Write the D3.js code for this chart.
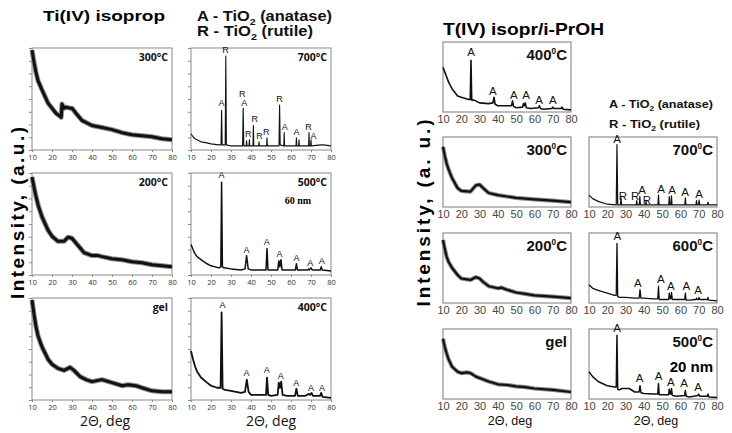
<!DOCTYPE html>
<html>
<head>
<meta charset="utf-8">
<script src="https://cdn.jsdelivr.net/npm/d3@7"></script>
<style>body{margin:0;background:#fff}</style>
</head>
<body>
<script>
// ---- data (intensity in % of panel height) ----
const xTicks = [10, 20, 30, 40, 50, 60, 70, 80];

// Ti(IV) isoprop
const ti300 = [[10,98],[11,86],[12,76],[13,68],[15,59],[18,46],[20,41],[22,36],[24,33],[24.6,32],[25,45],[26,41],[27,42],[29,41],[30,41],[32,36],[35,29],[38,26],[40,24],[45,22],[50,20],[55,17],[60,15],[65,14],[70,13],[75,11],[80,10]];
const ti200 = [[10,96],[11,86],[12,77],[13,69],[15,57],[18,44],[20,38],[23,33],[26,33],[28,37],[30,36],[33,29],[36,22],[40,19],[43,19],[45,18],[50,16],[55,15],[60,13],[65,12],[70,10],[75,9],[80,8]];
const tiGel = [[10,98],[11,84],[12,72],[13,63],[15,52],[18,40],[20,35],[23,31],[26,29],[29,32],[31,29],[34,23],[37,20],[40,18],[45,20],[50,17],[55,14],[58,15],[62,14],[65,12],[70,9],[75,8],[80,8]];
const ti700 = [[10,16],[11,13],[12,11],[13,10],[15,8],[18,7],[20,6],[24,5],[25,5],[25.3,39],[25.6,5],[27.1,5],[27.4,92],[27.7,5],[30,4],[35.8,4],[36.1,41],[36.4,4],[37.6,4],[37.8,9],[38,4],[39,4],[39.2,10],[39.4,4],[41,4],[41.2,24],[41.4,4],[43.8,4],[44,8],[44.2,4],[47.8,4],[48,12],[48.2,4],[54,4],[54.3,44],[54.6,5],[56.4,4],[56.6,17],[56.8,4],[62.5,4],[62.7,12],[62.9,4],[63.8,4],[64,10],[64.2,4],[68.8,4],[69,17],[69.2,4],[69.8,4],[70,10],[70.2,4],[75,5],[76,5],[80,4]];
const ti500 = [[10,30],[11,25],[12,21],[13,18],[15,15],[18,11],[20,9],[24,7],[24.9,8],[25.3,91],[25.7,8],[26.5,7],[30,6],[35,5],[37,6],[37.8,19],[38.6,6],[40,5],[47.5,5],[48,26],[48.5,5],[53.4,5],[53.9,14],[54.4,8],[55,15],[55.5,5],[62.2,5],[62.7,11],[63.2,5],[68.5,5],[68.8,6],[69.2,5],[70,7],[70.6,5],[74.6,5],[75.1,8],[75.6,5],[80,4]];
const ti400 = [[10,48],[11,40],[12,33],[13,28],[15,22],[18,17],[20,14],[23,12],[24.8,12],[25.3,86],[25.8,11],[27,10],[30,9],[35,7],[37,8],[37.9,20],[38.8,8],[40,5],[45,5],[47.5,5],[48,22],[48.6,5],[50,4],[53.3,5],[53.9,17],[54.5,12],[55.1,18],[55.8,5],[58,4],[62,4],[62.7,11],[63.4,4],[67,4],[68.8,6],[69.5,5],[70.3,7],[71,4],[74.5,4],[75.1,7],[75.8,3],[80,2]];
const ti700Peaks = [["A",25.2,43],["R",27.3,95],["R",35.6,52],["A",36.6,43],["R",38.6,13],["R",41.9,27],["R",44.3,11],["R",47.6,15],["R",54.2,47],["A",56.9,20],["A",62.7,15],["R",68.8,20],["A",71.3,11]];
const ti500Peaks = [["A",25.3,95],["A",37.8,22],["A",47.9,29],["A",54.2,18],["A",62.8,14],["A",69.6,9],["A",75.4,11]];
const ti400Peaks = [["A",25.8,90],["A",37.8,24],["A",47.9,26],["A",54.9,21],["A",62.6,14],["A",70,9],["A",75.5,9]];
const tiTemps = ["300°C", "700°C", "200°C", "500°C", "gel", "400°C"];

// T(IV) isopr/i-PrOH
const pr400 = [[10,64],[11,57],[12,50],[13,43],[15,33],[18,23],[20,21],[24,18],[24.9,18],[25.3,74],[25.7,17],[27,17],[30,13],[35,12],[37.3,13],[37.9,21],[38.5,11],[40,9],[45,9],[47.5,9],[48,16],[48.6,8],[50,6],[53.5,7],[54,12],[54.5,9],[55,13],[55.6,6],[58,5],[62.2,6],[62.7,9],[63.3,5],[65,4],[69.5,5],[70,7],[70.6,5],[74.6,5],[75.1,7],[75.7,4],[80,3]];
const pr300 = [[10,86],[11,73],[12,62],[13,54],[15,41],[18,27],[20,23],[25,22],[28,31],[30,32],[32,27],[35,20],[40,17],[45,15],[50,13],[60,11],[70,9],[80,7]];
const pr700 = [[10,17],[12,12],[15,8],[20,4],[24.9,3],[25.3,89],[25.7,3],[27.2,3],[27.5,13],[27.8,3],[35.8,3],[36.1,9],[36.4,3],[37.5,3],[37.8,15],[38.1,3],[41,3],[41.2,8],[41.4,3],[47.7,3],[48,17],[48.3,3],[53.6,3],[53.9,15],[54.2,3],[54.8,3],[55.1,16],[55.4,3],[62.4,3],[62.7,13],[63,3],[68.5,3],[68.8,9],[69.1,3],[69.9,3],[70.2,10],[70.5,3],[74.8,3],[75.1,7],[75.4,3],[80,3]];
const pr200 = [[10,90],[11,77],[12,66],[13,59],[15,50],[18,40],[20,35],[25,33],[28,37],[30,35],[32,30],[35,24],[40,21],[42,22],[45,19],[50,15],[55,13],[60,11],[70,9],[80,7]];
const pr600 = [[10,26],[12,21],[15,18],[20,14],[24,11],[24.9,11],[25.3,85],[25.7,9],[27,8],[30,8],[35,7],[37.4,7],[37.9,19],[38.4,7],[40,7],[45,6],[47.6,6],[48,24],[48.4,5],[50,5],[53.5,5],[53.9,14],[54.4,6],[54.8,6],[55.1,15],[55.6,5],[58,5],[62.3,5],[62.7,14],[63.1,4],[65,4],[68.5,5],[68.8,7],[69.2,5],[69.9,5],[70.2,8],[70.6,5],[74.8,5],[75.1,8],[75.4,4],[80,3]];
const prGel = [[10,86],[11,74],[12,65],[13,57],[15,46],[18,39],[20,37],[23,38],[25,37],[28,32],[30,30],[35,25],[40,21],[45,20],[50,18],[55,17],[60,15],[70,13],[80,10]];
const pr500 = [[10,39],[12,32],[15,25],[20,19],[24,17],[24.9,17],[25.3,91],[25.7,14],[26.5,13],[28,15],[32,15],[35,10],[37.4,10],[37.9,19],[38.4,9],[40,8],[45,7],[47.6,7],[48,22],[48.4,6],[50,6],[53.5,6],[53.9,14],[54.4,7],[54.8,7],[55.1,15],[55.6,5],[58,4],[62.3,5],[62.7,12],[63.1,4],[65,3],[69.5,5],[70,7],[70.5,4],[74.7,4],[75.1,7],[75.5,3],[80,2]];
const pr400Peaks = [["A",25.3,80],["A",37.3,24],["A",48.8,19],["A",55.4,18],["A",62.5,11],["A",70.1,11]];
const pr700Peaks = [["A",25.3,92],["R",28.6,10],["R",35.2,10],["A",39,19],["R",41.7,4],["A",49.4,20],["A",55.4,19],["A",62.5,16],["A",70.2,13]];
const pr600Peaks = [["A",25.5,90],["A",36.7,23],["A",49.3,28],["A",54.8,19],["A",63.2,19],["A",69.6,13]];
const pr500Peaks = [["A",25.3,96],["A",37.6,25],["A",48.1,27],["A",54.8,19],["A",62,17],["A",69.7,11]];
const prTemps = ["400°C", "300°C", "700°C", "200°C", "600°C", "gel", "500°C"];

// ---- drawing ----
const svg = d3.select("body").append("svg")
  .attr("width", 732).attr("height", 433)
  .style("font-family", "'Liberation Sans', Arial, sans-serif");

const styleL = {w: 140, h: 102, frame: "#8a8a8a", tick: 2, pad: 3, tickFont: 7.5, tickColor: "#333",
  family: "'Open Sans', sans-serif", peakFont: 9, tempFont: 10.5, tempDy: 13, yTicks: true};
const styleR = {w: 128, h: 70, frame: "#7a7a7a", tick: 0, pad: 3, tickFont: 11, tickColor: "#444",
  family: "'Liberation Sans', Arial, sans-serif", peakFont: 11.5, tempFont: 15, tempDy: 18, yTicks: false, sup: true};

function drawPanel(p, st) {
  const x = d3.scaleLinear().domain([10, 80]).range([p.x, p.x + st.w]);
  const y = d3.scaleLinear().domain([0, 100]).range([p.y + st.h, p.y]);
  const g = svg.append("g");

  const xa = g.append("g")
    .attr("transform", `translate(0,${p.y + st.h})`)
    .call(d3.axisBottom(x).tickValues(xTicks).tickSize(st.tick).tickPadding(st.pad));
  xa.select(".domain").remove();
  xa.selectAll("line").attr("stroke", st.frame);
  xa.selectAll("text").attr("font-size", st.tickFont).attr("fill", st.tickColor)
    .attr("font-family", st.family);

  if (st.yTicks) {
    const ya = g.append("g")
      .attr("transform", `translate(${p.x},0)`)
      .call(d3.axisLeft(y).tickValues(d3.range(0, 101, 12.5)).tickSize(3).tickFormat(""));
    ya.select(".domain").remove();
    ya.selectAll("line").attr("stroke", st.frame);
  }

  g.append("rect")
    .attr("x", p.x).attr("y", p.y).attr("width", st.w).attr("height", st.h)
    .attr("fill", "none").attr("stroke", st.frame).attr("stroke-width", 1);

  const line = d3.line().x(d => x(d[0])).y(d => y(d[1]));
  if (p.amorph) {
    // grey fringe standing in for the noise band of the raw scan
    g.append("path").attr("d", line(p.data)).attr("fill", "none")
      .attr("stroke", "#8c8c8c").attr("stroke-width", p.lw + 2).attr("stroke-linejoin", "round");
  }
  g.append("path").attr("d", line(p.data)).attr("fill", "none")
    .attr("stroke", "#111").attr("stroke-width", p.lw).attr("stroke-linejoin", "round");

  g.selectAll("text.pk").data(p.peaks || []).join("text")
    .attr("class", "pk")
    .attr("x", d => x(d[1])).attr("y", d => y(d[2]))
    .attr("text-anchor", "middle").attr("font-size", st.peakFont).attr("fill", "#111")
    .text(d => d[0]);

  const t = g.append("text")
    .attr("x", p.x + st.w - 4).attr("y", p.y + st.tempDy)
    .attr("text-anchor", "end").attr("font-weight", "bold")
    .attr("font-size", st.tempFont).attr("fill", "#111")
    .attr("font-family", st.sup ? st.family : "'Open Sans', sans-serif");
  if (st.sup && p.temp.includes("°")) {
    const [num, unit] = p.temp.split("°");
    t.append("tspan").text(num);
    t.append("tspan").attr("font-size", st.tempFont * 0.55).attr("dy", -6).text("0");
    t.append("tspan").attr("dy", 6).text(unit);
  } else {
    t.text(p.temp);
  }
}

// left group
const lx = [32, 191], ly = [48, 173, 298];
const leftPanels = [
  {data: ti300, x: lx[0], y: ly[0], amorph: true, lw: 3},
  {data: ti700, x: lx[1], y: ly[0], lw: 1.1, peaks: ti700Peaks},
  {data: ti200, x: lx[0], y: ly[1], amorph: true, lw: 3},
  {data: ti500, x: lx[1], y: ly[1], lw: 1.5, peaks: ti500Peaks},
  {data: tiGel, x: lx[0], y: ly[2], amorph: true, lw: 3},
  {data: ti400, x: lx[1], y: ly[2], lw: 1.8, peaks: ti400Peaks}
];
leftPanels.forEach((p, i) => { p.temp = tiTemps[i]; drawPanel(p, styleL); });

// right group
const rx = [443, 589], ry = [42, 137, 233, 329];
const rightPanels = [
  {data: pr400, x: rx[0], y: ry[0], lw: 1.6, peaks: pr400Peaks},
  {data: pr300, x: rx[0], y: ry[1], amorph: true, lw: 2.2},
  {data: pr700, x: rx[1], y: ry[1], lw: 1.2, peaks: pr700Peaks},
  {data: pr200, x: rx[0], y: ry[2], amorph: true, lw: 2.2},
  {data: pr600, x: rx[1], y: ry[2], lw: 1.3, peaks: pr600Peaks},
  {data: prGel, x: rx[0], y: ry[3], amorph: true, lw: 2.2},
  {data: pr500, x: rx[1], y: ry[3], lw: 1.5, peaks: pr500Peaks}
];
rightPanels.forEach((p, i) => { p.temp = prTemps[i]; drawPanel(p, styleR); });

// titles and legends
svg.append("text").attr("x", 43).attr("y", 21).attr("font-size", 15).attr("font-weight", "bold")
  .attr("textLength", 122).attr("lengthAdjust", "spacingAndGlyphs").text("Ti(IV) isoprop");

function legendLine(x, y, letter, name, size, len) {
  const t = svg.append("text").attr("x", x).attr("y", y).attr("font-size", size)
    .attr("font-weight", "bold").attr("fill", "#111")
    .attr("textLength", len).attr("lengthAdjust", "spacingAndGlyphs");
  t.append("tspan").text(letter + " - TiO");
  t.append("tspan").attr("font-size", size * 0.65).attr("dy", size * 0.25).text("2");
  t.append("tspan").attr("dy", -size * 0.25).text(" (" + name + ")");
}
legendLine(197, 21, "A", "anatase", 14, 135);
legendLine(197, 36, "R", "rutile", 14, 116);

svg.append("text").attr("x", 443).attr("y", 35).attr("font-size", 17).attr("font-weight", "bold")
  .attr("textLength", 161).attr("lengthAdjust", "spacingAndGlyphs").text("T(IV) isopr/i-PrOH");
legendLine(609, 108, "A", "anatase", 11.5, 104);
legendLine(609, 128, "R", "rutile", 11.5, 91);

// extra notes
svg.append("text").attr("x", 298).attr("y", 204).attr("text-anchor", "middle")
  .attr("font-family", "'Liberation Serif', serif").attr("font-weight", "bold").attr("font-size", 10)
  .text("60 nm");
svg.append("text").attr("x", 713).attr("y", 372).attr("text-anchor", "end")
  .attr("font-weight", "bold").attr("font-size", 15).text("20 nm");

// axis titles
svg.append("text").attr("transform", "translate(24,213) rotate(-90)").attr("text-anchor", "middle")
  .attr("font-size", 19).attr("font-weight", "bold")
  .attr("textLength", 172).attr("lengthAdjust", "spacing").text("Intensity, (a.u.)");
svg.append("text").attr("transform", "translate(430,213) rotate(-90)").attr("text-anchor", "middle")
  .attr("font-size", 19).attr("font-weight", "bold")
  .attr("textLength", 187).attr("lengthAdjust", "spacing").text("Intensity, (a. u.)");

[[105, 426, 14, "'Open Sans', sans-serif"], [271, 426, 14, "'Open Sans', sans-serif"],
 [510, 425, 12.5, "'Liberation Sans', Arial, sans-serif"], [656, 425, 12.5, "'Liberation Sans', Arial, sans-serif"]]
  .forEach(([x, y, s, f]) => {
    svg.append("text").attr("x", x).attr("y", y).attr("text-anchor", "middle")
      .attr("font-size", s).attr("font-family", f).attr("fill", "#111").text("2Θ, deg");
  });
</script>
</body>
</html>
